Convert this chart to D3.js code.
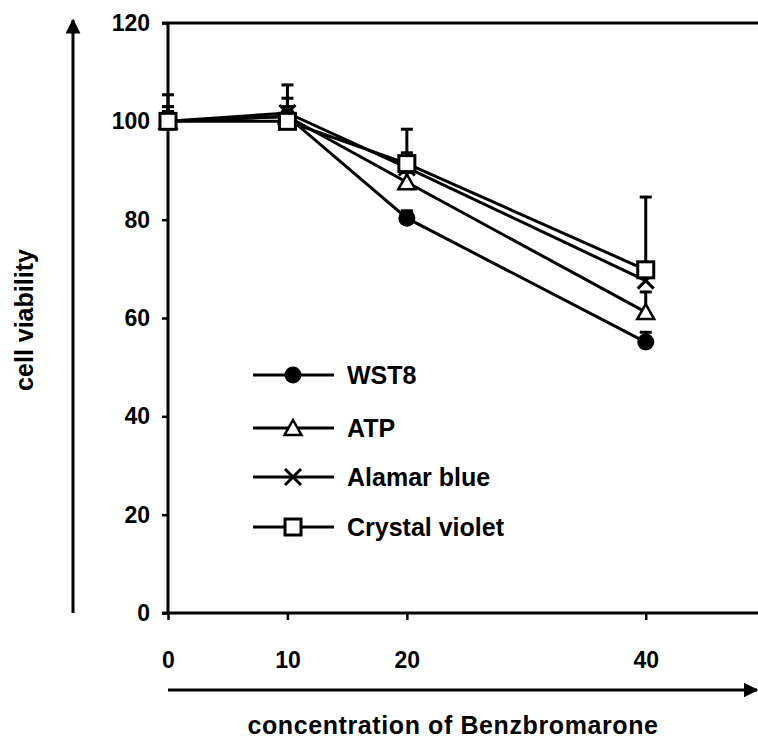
<!DOCTYPE html>
<html>
<head>
<meta charset="utf-8">
<script src="https://cdn.jsdelivr.net/npm/d3@7"></script>
<style>
  body { margin: 0; background: #fff; }
  svg { display: block; font-family: "Liberation Sans", Arial, sans-serif; font-weight: bold; }
</style>
</head>
<body>
<div id="chart"></div>
<script>
// concentrations of benzbromarone
const concentrations = [0, 10, 20, 40];
const seriesNames = ['WST8', 'ATP', 'Alamar blue', 'Crystal violet'];
const wst8 = [100, 101, 80.3, 55.1];
const atp = [100, 101, 87.6, 61.2];
const alamar = [100, 101.7, 90.6, 67.6];
const crystal = [100, 100, 91.4, 69.8];
// upper error bars
const wst8Err = [2, 1, 1.5, 2];
const atpErr = [3, 2, 2, 4.1];
const alamarErr = [3, 3, 3, 3];
const crystalErr = [5.4, 7.4, 7, 14.8];
const yTicks = [0, 20, 40, 60, 80, 100, 120];
const xTicks = [0, 10, 20, 40];

const width = 758, height = 742;
const margin = { top: 23, left: 168, bottom: 129 };
const FONT = '"Liberation Sans", Arial, sans-serif';

const svg = d3.select('#chart').append('svg')
    .attr('width', width)
    .attr('height', height);

const x = d3.scaleLinear().domain([0, 49.4]).range([margin.left, width]);
const y = d3.scaleLinear().domain([0, 120]).range([height - margin.bottom, margin.top]);

const seriesData = [
    { name: seriesNames[0], values: wst8, err: wst8Err, marker: 'circle' },
    { name: seriesNames[1], values: atp, err: atpErr, marker: 'triangle' },
    { name: seriesNames[2], values: alamar, err: alamarErr, marker: 'cross' },
    { name: seriesNames[3], values: crystal, err: crystalErr, marker: 'square' }
];

function drawMarker(g, type) {
    if (type === 'circle') {
        g.append('circle').attr('r', 8.5).attr('fill', '#000');
    } else if (type === 'triangle') {
        g.append('path')
            .attr('d', 'M0,-8 L8.5,7 L-8.5,7 Z')
            .attr('fill', '#fff').attr('stroke', '#000').attr('stroke-width', 2.5);
    } else if (type === 'cross') {
        g.append('path')
            .attr('d', 'M-8,-8 L8,8 M-8,8 L8,-8')
            .attr('fill', 'none').attr('stroke', '#000').attr('stroke-width', 3);
    } else {
        g.append('rect')
            .attr('x', -8).attr('y', -8).attr('width', 16).attr('height', 16)
            .attr('fill', '#fff').attr('stroke', '#000').attr('stroke-width', 3);
    }
}

// axes
const yAxis = d3.axisLeft(y).tickValues(yTicks).tickSize(6).tickPadding(12);
const yG = svg.append('g')
    .attr('transform', `translate(${margin.left},0)`)
    .call(yAxis);
yG.select('.domain').attr('stroke-width', 3).attr('d', `M0,${y(120)}V${y(0)}`);
yG.selectAll('.tick line').attr('stroke-width', 2.5);
yG.selectAll('text').attr('font-size', 23).attr('font-weight', 'bold').attr('fill', '#000')
    .attr('font-family', FONT);

const xAxis = d3.axisBottom(x).tickValues(xTicks).tickSize(7).tickPadding(32);
const xG = svg.append('g')
    .attr('transform', `translate(0,${y(0)})`)
    .call(xAxis);
xG.select('.domain').attr('stroke-width', 3).attr('d', `M${margin.left - 6},0H${width}`);
xG.selectAll('.tick line').attr('stroke-width', 2.5);
xG.selectAll('text').attr('font-size', 23).attr('font-weight', 'bold').attr('fill', '#000')
    .attr('font-family', FONT);

// top frame line
svg.append('line')
    .attr('x1', margin.left - 6).attr('x2', width)
    .attr('y1', y(120)).attr('y2', y(120))
    .attr('stroke', '#000').attr('stroke-width', 3);

// arrows
svg.append('defs').append('marker')
    .attr('id', 'arrow')
    .attr('viewBox', '0 0 10 10')
    .attr('refX', 9).attr('refY', 5)
    .attr('markerWidth', 5).attr('markerHeight', 5)
    .attr('markerUnits', 'strokeWidth')
    .attr('orient', 'auto')
    .append('path').attr('d', 'M0,0 L10,5 L0,10 Z').attr('fill', '#000');

svg.append('line')
    .attr('x1', 73).attr('x2', 73).attr('y1', y(0)).attr('y2', 20)
    .attr('stroke', '#000').attr('stroke-width', 3).attr('marker-end', 'url(#arrow)');
svg.append('line')
    .attr('x1', margin.left).attr('x2', width - 1).attr('y1', 690).attr('y2', 690)
    .attr('stroke', '#000').attr('stroke-width', 3).attr('marker-end', 'url(#arrow)');

// axis titles
svg.append('text')
    .attr('transform', `translate(33,${y(60) + 2}) rotate(-90)`)
    .attr('text-anchor', 'middle')
    .attr('font-size', 25)
    .text('cell viability');
svg.append('text')
    .attr('x', 453).attr('y', 734)
    .attr('text-anchor', 'middle')
    .attr('font-size', 25)
    .attr('letter-spacing', 0.6)
    .text('concentration of Benzbromarone');

// lines
const line = d3.line()
    .x((d, i) => x(concentrations[i]))
    .y(d => y(d));

svg.selectAll('.series-line')
    .data(seriesData)
    .join('path')
    .attr('class', 'series-line')
    .attr('d', d => line(d.values))
    .attr('fill', 'none')
    .attr('stroke', '#000')
    .attr('stroke-width', 3);

// error bars (upper)
seriesData.forEach(s => {
    const eb = svg.append('g');
    s.values.forEach((v, i) => {
        const cx = x(concentrations[i]);
        eb.append('line')
            .attr('x1', cx).attr('x2', cx)
            .attr('y1', y(v)).attr('y2', y(v + s.err[i]))
            .attr('stroke', '#000').attr('stroke-width', 3);
        eb.append('line')
            .attr('x1', cx - 6).attr('x2', cx + 6)
            .attr('y1', y(v + s.err[i])).attr('y2', y(v + s.err[i]))
            .attr('stroke', '#000').attr('stroke-width', 3);
    });
});

// markers
seriesData.forEach(s => {
    s.values.forEach((v, i) => {
        const g = svg.append('g')
            .attr('transform', `translate(${x(concentrations[i])},${y(v)})`);
        drawMarker(g, s.marker);
    });
});

// legend
const legendRows = [375, 428, 477, 527];
const legend = svg.append('g');
seriesData.forEach((s, i) => {
    const row = legend.append('g').attr('transform', `translate(0,${legendRows[i]})`);
    row.append('line')
        .attr('x1', 253).attr('x2', 334)
        .attr('stroke', '#000').attr('stroke-width', 3);
    drawMarker(row.append('g').attr('transform', 'translate(293,0)'), s.marker);
    row.append('text')
        .attr('x', 347).attr('y', 9)
        .attr('font-size', 25)
        .text(s.name);
});
</script>
</body>
</html>
